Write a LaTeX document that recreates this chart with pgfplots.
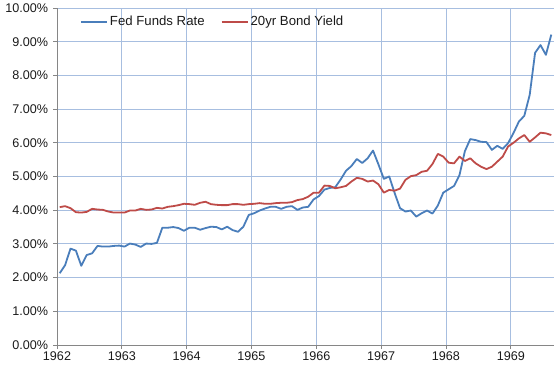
\documentclass[border=0pt]{standalone}
\usepackage{pgfplots}
\pgfplotsset{compat=1.18}
\usepackage{pgfplotstable}
\usepackage{fontspec}
\setmainfont{Liberation Sans}
\definecolor{ffblue}{HTML}{4A7EBB}
\definecolor{bdred}{HTML}{BE4B48}
\definecolor{gridc}{HTML}{A7BEE0}
\definecolor{axc}{HTML}{868686}
\definecolor{lblc}{HTML}{1A1A1A}

\pgfplotstableread{
i ff by
0 2.13 4.09
1 2.37 4.12
2 2.86 4.06
3 2.80 3.94
4 2.35 3.93
5 2.67 3.95
6 2.72 4.04
7 2.94 4.02
8 2.92 4.01
9 2.92 3.96
10 2.94 3.93
11 2.95 3.93
12 2.92 3.93
13 3.01 3.99
14 2.98 3.99
15 2.91 4.04
16 3.01 4.01
17 3.00 4.02
18 3.03 4.07
19 3.48 4.05
20 3.48 4.10
21 3.50 4.12
22 3.47 4.15
23 3.39 4.19
24 3.48 4.18
25 3.48 4.16
26 3.42 4.22
27 3.47 4.25
28 3.51 4.18
29 3.50 4.16
30 3.43 4.15
31 3.51 4.15
32 3.41 4.18
33 3.36 4.18
34 3.51 4.16
35 3.86 4.18
36 3.91 4.19
37 3.99 4.21
38 4.05 4.19
39 4.10 4.19
40 4.10 4.21
41 4.04 4.22
42 4.10 4.22
43 4.12 4.24
44 4.01 4.30
45 4.08 4.33
46 4.10 4.40
47 4.32 4.52
48 4.42 4.52
49 4.61 4.73
50 4.66 4.72
51 4.68 4.65
52 4.91 4.68
53 5.17 4.72
54 5.31 4.85
55 5.52 4.96
56 5.40 4.93
57 5.54 4.85
58 5.77 4.88
59 5.36 4.77
60 4.93 4.52
61 5.00 4.60
62 4.51 4.58
63 4.06 4.64
64 3.96 4.90
65 3.99 5.01
66 3.81 5.04
67 3.91 5.14
68 3.99 5.17
69 3.90 5.37
70 4.14 5.67
71 4.52 5.59
72 4.62 5.41
73 4.72 5.39
74 5.04 5.59
75 5.75 5.46
76 6.11 5.54
77 6.08 5.39
78 6.03 5.29
79 6.02 5.22
80 5.79 5.29
81 5.91 5.44
82 5.82 5.59
83 5.99 5.89
84 6.29 6.00
85 6.63 6.13
86 6.80 6.23
87 7.42 6.03
88 8.67 6.16
89 8.90 6.30
90 8.61 6.28
91 9.21 6.23
}\rates

\begin{document}
\begin{tikzpicture}
\begin{axis}[
  at={(0,0)}, anchor=south west,
  scale only axis,
  width=497bp, height=337bp,
  xmin=1962, xmax=1969.6667,
  ymin=0, ymax=10,
  axis lines*=left,
  axis line style={axc, line width=0.8bp, -},
  xtick={1962,1963,1964,1965,1966,1967,1968,1969},
  xticklabels={1962,1963,1964,1965,1966,1967,1968,1969},
  ytick={0,1,2,3,4,5,6,7,8,9,10},
  yticklabels={0.00\%,1.00\%,2.00\%,3.00\%,4.00\%,5.00\%,6.00\%,7.00\%,8.00\%,9.00\%,10.00\%},
  tick align=outside,
  major tick length=4bp,
  tick style={axc, line width=0.8bp},
  xmajorgrids, ymajorgrids,
  major grid style={gridc, line width=0.8bp},
  ticklabel style={font=\fontsize{12.6bp}{15bp}\selectfont, text=lblc},
  yticklabel style={xshift=-1.5bp},
  xticklabel style={yshift=1bp},
  clip=false,
  legend columns=2,
  legend style={draw=none, fill=none, at={(23bp,331bp)}, anchor=north west,
    font=\fontsize{13.2bp}{15bp}\selectfont, text=lblc,
    /tikz/every even column/.append style={column sep=14bp},
    inner sep=0pt, outer sep=0pt},
  legend cell align=left,
  legend image code/.code={\draw[#1, line width=2bp] (0bp,0bp) -- (26bp,0bp);},
]
\addplot[ffblue, line width=1.8bp, line join=round] table[x expr=1962+(\thisrow{i}+0.5)/12, y=ff] {\rates};
\addlegendentry{Fed Funds Rate}
\addplot[bdred, line width=1.8bp, line join=round] table[x expr=1962+(\thisrow{i}+0.5)/12, y=by] {\rates};
\addlegendentry{20yr Bond Yield}
\end{axis}
\pgfresetboundingbox
\path (-57bp,-28bp) rectangle (500bp,345bp);
\end{tikzpicture}
\end{document}
